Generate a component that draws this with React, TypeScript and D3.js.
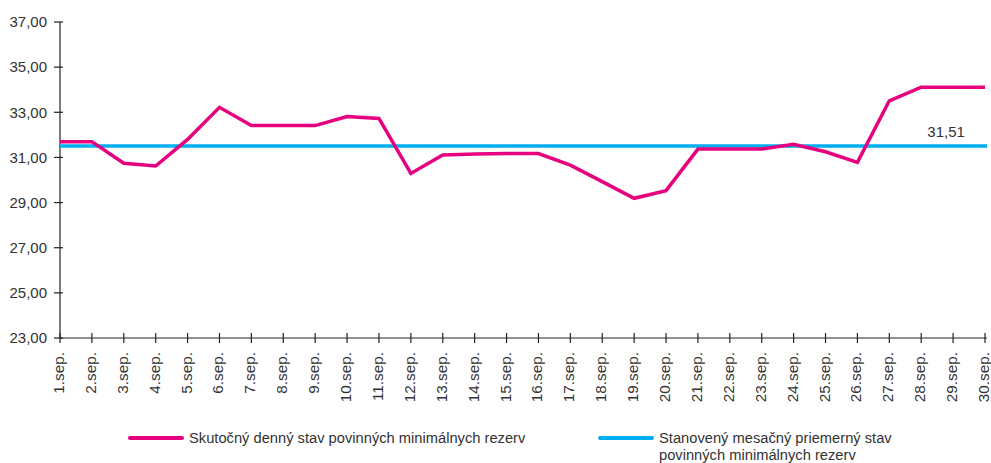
import React, { useEffect, useRef } from 'react';
import * as d3 from 'd3';

const days = Array.from({ length: 30 }, (_, i) => `${i + 1}.sep.`);
const actualValues = [
  31.7, 31.7, 30.74, 30.62, 31.8, 33.22, 32.41, 32.41, 32.41, 32.81,
  32.73, 30.29, 31.11, 31.15, 31.17, 31.17, 30.66, 29.93, 29.19, 29.53,
  31.37, 31.37, 31.37, 31.58, 31.25, 30.78, 33.51, 34.11, 34.11, 34.11,
];
const targetValue = 31.51;
const yTicks = [23, 25, 27, 29, 31, 33, 35, 37];
const legendLabels = [
  ['Skutočný denný stav povinných minimálnych rezerv'],
  ['Stanovený mesačný priemerný stav', 'povinných minimálnych rezerv'],
];

const PINK = '#e6007e';
const BLUE = '#00aeef';
const TEXT = '#333333';
const FONT = '"Liberation Sans", Arial, sans-serif';

function App() {
  const svgRef = useRef<SVGSVGElement>(null);

  useEffect(() => {
    const svg = d3.select(svgRef.current);
    svg.selectAll('*').remove();

    const x = d3.scalePoint<string>().domain(days).range([60, 985]);
    const y = d3.scaleLinear().domain([23, 37]).range([338, 22]);
    const fmt = (v: number) => d3.format('.2f')(v).replace('.', ',');

    // axes
    svg.append('line')
      .attr('x1', 60).attr('x2', 60)
      .attr('y1', y(37)).attr('y2', y(23))
      .attr('stroke', '#222').attr('stroke-width', 1.2);
    svg.append('line')
      .attr('x1', 60).attr('x2', 987)
      .attr('y1', y(23)).attr('y2', y(23))
      .attr('stroke', '#222').attr('stroke-width', 1.2);

    svg.selectAll('.ytick')
      .data(yTicks)
      .enter()
      .append('line')
      .attr('x1', 54).attr('x2', 63)
      .attr('y1', (d) => y(d)).attr('y2', (d) => y(d))
      .attr('stroke', '#222').attr('stroke-width', 1.2);

    svg.selectAll('.ylab')
      .data(yTicks)
      .enter()
      .append('text')
      .attr('x', 47)
      .attr('y', (d) => y(d))
      .attr('dy', '0.35em')
      .attr('text-anchor', 'end')
      .attr('font-family', FONT)
      .attr('font-size', 15)
      .attr('fill', TEXT)
      .text((d) => fmt(d));

    svg.selectAll('.xtick')
      .data(days)
      .enter()
      .append('line')
      .attr('x1', (d) => x(d)!).attr('x2', (d) => x(d)!)
      .attr('y1', y(23) - 5).attr('y2', y(23) + 5)
      .attr('stroke', '#222').attr('stroke-width', 1.2);

    svg.selectAll('.xlab')
      .data(days)
      .enter()
      .append('text')
      .attr('transform', (d) => `translate(${x(d)! + 4},352) rotate(-90)`)
      .attr('text-anchor', 'end')
      .attr('font-family', FONT)
      .attr('font-size', 15.3)
      .attr('fill', TEXT)
      .text((d) => d);

    // target line
    svg.append('line')
      .attr('x1', 60).attr('x2', 987)
      .attr('y1', y(targetValue)).attr('y2', y(targetValue))
      .attr('stroke', BLUE).attr('stroke-width', 3.5);

    svg.append('text')
      .attr('x', x(days[28])! - 7)
      .attr('y', y(targetValue) - 9)
      .attr('text-anchor', 'middle')
      .attr('font-family', FONT)
      .attr('font-size', 15)
      .attr('fill', TEXT)
      .text(fmt(targetValue));

    // actual line
    const line = d3.line<number>()
      .x((_, i) => x(days[i])!)
      .y((d) => y(d));
    svg.append('path')
      .datum(actualValues)
      .attr('d', line)
      .attr('fill', 'none')
      .attr('stroke', PINK)
      .attr('stroke-width', 3.5)
      .attr('stroke-linejoin', 'miter');

    // legend
    const legendItems = [
      { color: PINK, x0: 130, lines: legendLabels[0] },
      { color: BLUE, x0: 600, lines: legendLabels[1] },
    ];
    legendItems.forEach((item) => {
      svg.append('line')
        .attr('x1', item.x0).attr('x2', item.x0 + 52)
        .attr('y1', 438).attr('y2', 438)
        .attr('stroke', item.color).attr('stroke-width', 4)
        .attr('stroke-linecap', 'round');
      item.lines.forEach((t, i) => {
        svg.append('text')
          .attr('x', item.x0 + 59)
          .attr('y', 443 + i * 17)
          .attr('font-family', FONT)
          .attr('font-size', 14.7)
          .attr('fill', TEXT)
          .text(t);
      });
    });
  }, []);

  return (
    <svg
      ref={svgRef}
      width={991}
      height={463}
      style={{ position: 'absolute', left: 0, top: 0, background: '#fff' }}
    />
  );
}

export default App;
